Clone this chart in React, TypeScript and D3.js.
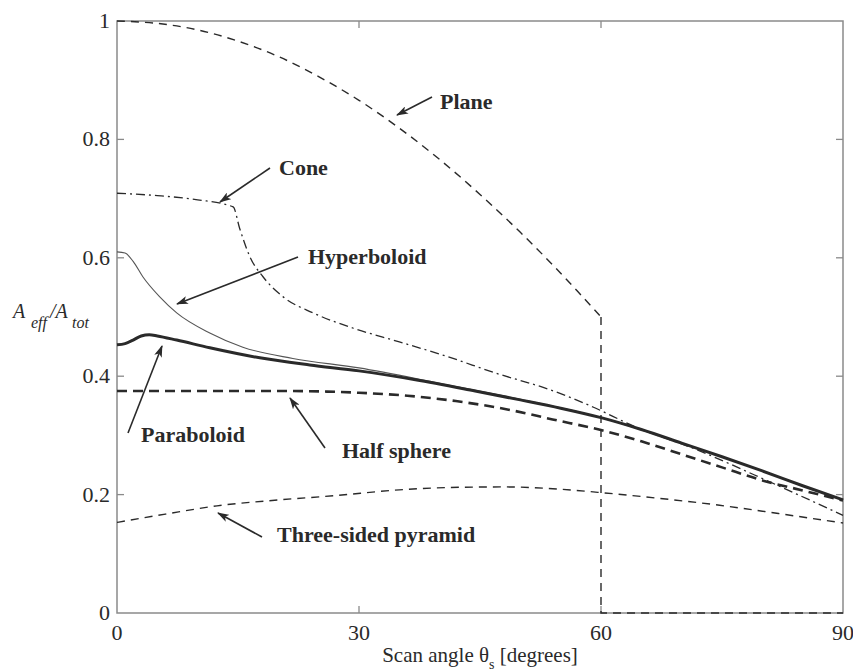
import React from "react";
import * as d3 from "d3";

const W = 853;
const H = 671;

// Data: [scan angle in degrees, A_eff/A_tot]
const planeData: [number, number][] = [
  [0, 1], [5, 0.996], [10, 0.985], [15, 0.966], [20, 0.94], [25, 0.906], [30, 0.866],
  [35, 0.819], [40, 0.766], [45, 0.707], [50, 0.643], [55, 0.574], [60, 0.5], [60, 0], [90, 0],
];
const coneData: [number, number][] = [
  [0, 0.709], [5, 0.705], [10, 0.698], [14.4, 0.686], [15.2, 0.65], [16.5, 0.601],
  [18.1, 0.568], [20.6, 0.534], [24.3, 0.507], [29.3, 0.481], [35, 0.458], [41, 0.433],
  [47, 0.405], [53.7, 0.377], [59, 0.348], [64, 0.316], [72, 0.275], [81, 0.221], [90, 0.165],
];
const hyperboloidData: [number, number][] = [
  [0, 0.61], [1, 0.608], [2, 0.594], [3.2, 0.568], [5.3, 0.534], [7.4, 0.507], [11.5, 0.473],
  [15.6, 0.449], [21.8, 0.43], [30, 0.414], [40, 0.388], [50, 0.361], [60, 0.33], [70, 0.287],
  [80, 0.24], [90, 0.191],
];
const paraboloidData: [number, number][] = [
  [0, 0.453], [1, 0.455], [2, 0.461], [3, 0.468], [4, 0.47], [5, 0.468], [7.4, 0.461],
  [11.5, 0.448], [17.7, 0.431], [23.9, 0.419], [30, 0.409], [37, 0.394], [44.4, 0.375],
  [50, 0.36], [55, 0.346], [60, 0.33], [65, 0.31], [70, 0.287], [75, 0.264], [80, 0.24],
  [85, 0.215], [90, 0.191],
];
const halfSphereData: [number, number][] = [
  [0, 0.375], [10, 0.375], [20, 0.375], [26, 0.374], [30, 0.372], [36, 0.367], [42, 0.358],
  [48.7, 0.343], [54, 0.327], [60, 0.309], [65, 0.29], [70, 0.268], [75, 0.246], [80, 0.224],
  [85, 0.207], [90, 0.19],
];
const pyramidData: [number, number][] = [
  [0, 0.153], [6, 0.167], [12.4, 0.181], [20, 0.191], [26.8, 0.198], [35, 0.208], [41.3, 0.212],
  [48, 0.213], [55, 0.209], [60.3, 0.203], [67, 0.194], [74.7, 0.182], [82, 0.168], [90, 0.152],
];

const xTicks = [0, 30, 60, 90];
const yTicks = [0, 0.2, 0.4, 0.6, 0.8, 1];
const yTickLabels = ["0", "0.2", "0.4", "0.6", "0.8", "1"];

// Annotations: label, text position, arrow start, arrow target (pixel layout)
const annotations = [
  { label: "Plane", tx: 440, ty: 109, ax1: 432, ay1: 97, ax2: 397, ay2: 115 },
  { label: "Cone", tx: 279, ty: 175, ax1: 270, ay1: 168, ax2: 220, ay2: 202 },
  { label: "Hyperboloid", tx: 308, ty: 264, ax1: 298, ay1: 257, ax2: 177, ay2: 304 },
  { label: "Paraboloid", tx: 141, ty: 442, ax1: 128, ay1: 433, ax2: 162, ay2: 346 },
  { label: "Half sphere", tx: 342, ty: 458, ax1: 325, ay1: 448, ax2: 290, ay2: 398 },
  { label: "Three-sided pyramid", tx: 277, ty: 542, ax1: 262, ay1: 537, ax2: 218, ay2: 513 },
];

export default function App() {
  const left = 117, right = 843, top = 21, bottom = 613;
  const x = d3.scaleLinear().domain([0, 90]).range([left, right]);
  const y = d3.scaleLinear().domain([0, 1]).range([bottom, top]);

  const smooth = d3.line<[number, number]>().x((d) => x(d[0])).y((d) => y(d[1])).curve(d3.curveMonotoneX);
  const linear = d3.line<[number, number]>().x((d) => x(d[0])).y((d) => y(d[1])).curve(d3.curveLinear);
  const planeSmooth = d3
    .line<[number, number]>()
    .x((d) => x(d[0]))
    .y((d) => y(d[1]))
    .curve(d3.curveCatmullRom);

  const planeCurve = planeData.slice(0, 13);
  const planeTail = planeData.slice(12);

  const font = "'Liberation Serif', 'Times New Roman', serif";
  const axisColor = "#8a8a8a";
  const ink = "#2a2a2a";
  const tickLen = 7;

  return (
    <div style={{ position: "absolute", left: 0, top: 0 }}>
      <svg width={W} height={H} style={{ display: "block", background: "#fff" }}>
        <defs>
          <marker id="arr" viewBox="0 0 12 8" refX="11" refY="4" markerWidth="12" markerHeight="8" markerUnits="userSpaceOnUse" orient="auto">
            <path d="M0,0 L12,4 L0,8 L3,4 Z" fill={ink} />
          </marker>
        </defs>

        {/* axes box */}
        <rect x={left} y={top} width={right - left} height={bottom - top} fill="none" stroke={axisColor} strokeWidth={1.5} />
        {yTicks.slice(1, -1).map((t) => (
          <g key={"yt" + t}>
            <line x1={left} x2={left + tickLen} y1={y(t)} y2={y(t)} stroke={axisColor} strokeWidth={1.3} />
            <line x1={right} x2={right - tickLen} y1={y(t)} y2={y(t)} stroke={axisColor} strokeWidth={1.3} />
          </g>
        ))}
        {xTicks.slice(1, -1).map((t) => (
          <g key={"xt" + t}>
            <line x1={x(t)} x2={x(t)} y1={bottom} y2={bottom - tickLen} stroke={axisColor} strokeWidth={1.3} />
            <line x1={x(t)} x2={x(t)} y1={top} y2={top + tickLen} stroke={axisColor} strokeWidth={1.3} />
          </g>
        ))}

        {/* tick labels */}
        {yTicks.map((t, i) => (
          <text key={"yl" + t} x={left - 7} y={y(t) + 7} textAnchor="end" fontFamily={font} fontSize={22} fill={ink}>
            {yTickLabels[i]}
          </text>
        ))}
        {xTicks.map((t) => (
          <text key={"xl" + t} x={x(t)} y={640} textAnchor="middle" fontFamily={font} fontSize={22} fill={ink}>
            {t}
          </text>
        ))}

        {/* axis titles */}
        <text x={(left + right) / 2} y={662} textAnchor="middle" fontFamily={font} fontSize={21} fill={ink}>
          Scan angle θ<tspan dy={7} fontSize={14}>s</tspan>
          <tspan dy={-7}> [degrees]</tspan>
        </text>
        <text fontFamily={font} fill={ink} fontStyle="italic">
          <tspan x={13} y={318} fontSize={20}>A</tspan>
          <tspan x={31} y={328} fontSize={16}>eff</tspan>
          <tspan x={50} y={318} fontSize={20}>/A</tspan>
          <tspan x={72} y={328} fontSize={16}>tot</tspan>
        </text>

        {/* curves */}
        <path d={planeSmooth(planeCurve) || ""} fill="none" stroke={ink} strokeWidth={1.4} strokeDasharray="8 6" />
        <path d={linear(planeTail) || ""} fill="none" stroke={ink} strokeWidth={1.4} strokeDasharray="8 6" />
        <path d={smooth(coneData) || ""} fill="none" stroke={ink} strokeWidth={1.3} strokeDasharray="9 4 2 4" />
        <path d={smooth(pyramidData) || ""} fill="none" stroke={ink} strokeWidth={1.4} strokeDasharray="8 6" />
        <path d={smooth(halfSphereData) || ""} fill="none" stroke={ink} strokeWidth={2.6} strokeDasharray="10 6" />
        <path d={smooth(hyperboloidData) || ""} fill="none" stroke="#555" strokeWidth={1.1} />
        <path d={smooth(paraboloidData) || ""} fill="none" stroke={ink} strokeWidth={3} />

        {/* annotations */}
        {annotations.map((a) => (
          <g key={a.label}>
            <line x1={a.ax1} y1={a.ay1} x2={a.ax2} y2={a.ay2} stroke={ink} strokeWidth={1.6} markerEnd="url(#arr)" />
            <text x={a.tx} y={a.ty} fontFamily={font} fontWeight="bold" fontSize={22} fill={ink}>
              {a.label}
            </text>
          </g>
        ))}
      </svg>
    </div>
  );
}
